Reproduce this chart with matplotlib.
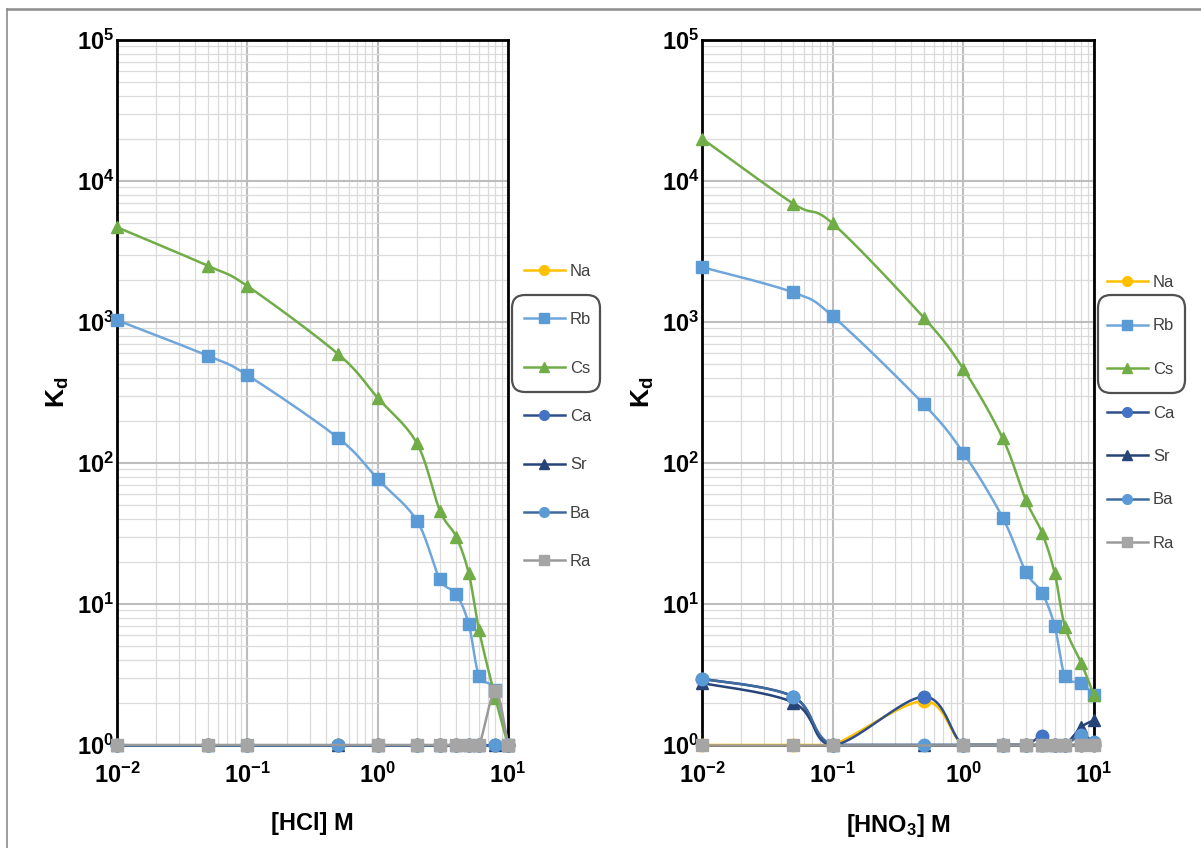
import numpy as np
import matplotlib
matplotlib.use("Agg")
import matplotlib.pyplot as plt
from matplotlib.lines import Line2D
from matplotlib.patches import FancyBboxPatch
from matplotlib.ticker import FixedLocator, FuncFormatter, LogLocator, NullFormatter

plt.rcParams["font.family"] = ["Liberation Sans", "DejaVu Sans"]
plt.rcParams["mathtext.fontset"] = "custom"
plt.rcParams["mathtext.rm"] = "Liberation Sans"
plt.rcParams["mathtext.bf"] = "Liberation Sans:bold"
plt.rcParams["mathtext.it"] = "Liberation Sans:italic"

# concentraciones de acido (M)
conc = [0.01, 0.05, 0.1, 0.5, 1, 2, 3, 4, 5, 6, 8, 10]
conc_ra = [0.01, 0.05, 0.1, 1, 2, 3, 4, 5, 6, 8, 10]

# Kd en HCl
hcl_na = [1, 1, 1, 1, 1, 1, 1, 1, 1, 1, 1, 1]
hcl_rb = [1030, 575, 420, 150, 77, 39, 15, 11.8, 7.2, 3.1, 2.45, 1]
hcl_cs = [4700, 2500, 1800, 590, 290, 138, 46, 30, 16.5, 6.5, 2.15, 1]
hcl_ca = [1, 1, 1, 1, 1, 1, 1, 1, 1, 1, 1, 1]
hcl_sr = [1, 1, 1, 1, 1, 1, 1, 1, 1, 1, 1, 1]
hcl_ba = [1, 1, 1, 1, 1, 1, 1, 1, 1, 1, 1, 1]
hcl_ra = [1, 1, 1, 1, 1, 1, 1, 1, 1, 2.4, 1]

# Kd en HNO3
hno3_na = [1, 1, 1, 2.05, 1, 1, 1, 1, 1, 1, 1, 1]
hno3_rb = [2450, 1620, 1100, 260, 118, 41, 17, 12, 7, 3.1, 2.75, 2.26]
hno3_cs = [20000, 6900, 5000, 1070, 465, 150, 55, 32, 16.6, 6.9, 3.8, 2.26]
hno3_ca = [2.95, 2.2, 1, 2.2, 1, 1, 1, 1.15, 1, 1, 1, 1]
hno3_sr = [2.75, 2.0, 1, 1, 1, 1, 1, 1, 1, 1, 1.34, 1.5]
hno3_ba = [2.95, 2.2, 1, 1, 1, 1, 1, 1, 1, 1, 1.17, 1.05]
hno3_ra = [1, 1, 1, 1, 1, 1, 1, 1, 1, 1, 1]

names = ["Na", "Rb", "Cs", "Ca", "Sr", "Ba", "Ra"]
# (color linea, color marcador, marcador)
styles = {
    "Na": ("#ffc000", "#ffc000", "o"),
    "Rb": ("#6fa6dc", "#5b9bd5", "s"),
    "Cs": ("#70ad47", "#70ad47", "^"),
    "Ca": ("#2f4f8a", "#4472c4", "o"),
    "Sr": ("#264478", "#264478", "^"),
    "Ba": ("#3f6a9e", "#5b9bd5", "o"),
    "Ra": ("#9a9a9a", "#a5a5a5", "s"),
}


def smooth(xs, ys, n=24):
    # curva suavizada tipo Excel (bezier por tramos en espacio log-log)
    pts = np.column_stack([np.log10(xs), np.log10(ys)])
    out = []
    for i in range(len(pts) - 1):
        p0 = pts[max(i - 1, 0)]
        p1 = pts[i]
        p2 = pts[i + 1]
        p3 = pts[min(i + 2, len(pts) - 1)]
        c1 = p1 + (p2 - p0) / 6
        c2 = p2 - (p3 - p1) / 6
        t = np.linspace(0, 1, n)[:, None]
        seg = (1 - t) ** 3 * p1 + 3 * (1 - t) ** 2 * t * c1 + 3 * (1 - t) * t ** 2 * c2 + t ** 3 * p2
        out.append(seg if i == 0 else seg[1:])
    curve = np.vstack(out)
    return 10 ** curve[:, 0], 10 ** np.clip(curve[:, 1], 0, None)


def draw_panel(ax, series, xlabel):
    for k, name in enumerate(names):
        xs, ys = series[name]
        lc, mc, mk = styles[name]
        sx, sy = smooth(xs, ys)
        z = 3 + k * 0.1
        ax.plot(sx, sy, color=lc, lw=1.8, zorder=z, clip_on=False)
        ax.plot(xs, ys, ls="none", marker=mk, ms=9, color=mc, mec=mc, zorder=z + 0.05, clip_on=False)

    ax.set_xscale("log")
    ax.set_yscale("log")
    ax.set_xlim(0.01, 10)
    ax.set_ylim(1, 1e5)

    fmt = FuncFormatter(lambda v, p: r"$\mathbf{10^{%d}}$" % round(np.log10(v)))
    ax.xaxis.set_major_locator(FixedLocator([0.01, 0.1, 1, 10]))
    ax.yaxis.set_major_locator(FixedLocator([1, 10, 100, 1e3, 1e4, 1e5]))
    ax.xaxis.set_major_formatter(fmt)
    ax.yaxis.set_major_formatter(fmt)
    ax.xaxis.set_minor_locator(LogLocator(base=10, subs=np.arange(2, 10)))
    ax.yaxis.set_minor_locator(LogLocator(base=10, subs=np.arange(2, 10)))
    ax.xaxis.set_minor_formatter(NullFormatter())
    ax.yaxis.set_minor_formatter(NullFormatter())
    ax.tick_params(which="both", length=0, labelsize=17)
    ax.tick_params(axis="x", pad=13)
    ax.tick_params(axis="y", pad=2)

    ax.grid(True, which="major", color="#bdbdbd", lw=1.5)
    ax.grid(True, which="minor", color="#dadada", lw=0.9)
    ax.set_axisbelow(True)
    for sp in ax.spines.values():
        sp.set_color("black")
        sp.set_linewidth(2)

    ax.set_xlabel(xlabel, fontsize=17, fontweight="bold", labelpad=17)
    ax.set_ylabel(r"K$_\mathbf{d}$", fontsize=19, fontweight="bold", labelpad=4)


fig = plt.figure(figsize=(12.01, 8.48), dpi=100)
W, H = 1201, 848

ax1 = fig.add_axes([117 / W, 1 - 745 / H, (508 - 117) / W, (745 - 40) / H])
ax2 = fig.add_axes([702 / W, 1 - 745 / H, (1094 - 702) / W, (745 - 40) / H])

hcl = {
    "Na": (conc, hcl_na), "Rb": (conc, hcl_rb), "Cs": (conc, hcl_cs),
    "Ca": (conc, hcl_ca), "Sr": (conc, hcl_sr), "Ba": (conc, hcl_ba),
    "Ra": (conc_ra, hcl_ra),
}
hno3 = {
    "Na": (conc, hno3_na), "Rb": (conc, hno3_rb), "Cs": (conc, hno3_cs),
    "Ca": (conc, hno3_ca), "Sr": (conc, hno3_sr), "Ba": (conc, hno3_ba),
    "Ra": (conc_ra, hno3_ra),
}

draw_panel(ax1, hcl, "[HCl] M")
draw_panel(ax2, hno3, r"[HNO$_\mathbf{3}$] M")

handles = []
for name in names:
    lc, mc, mk = styles[name]
    handles.append(Line2D([], [], color=lc, lw=1.8, marker=mk, ms=7, mfc=mc, mec=mc))

# leyendas a la derecha de cada panel
for x_px, top_px, spacing in [(524, 264, 2.0), (1107, 275, 1.71)]:
    leg = fig.legend(handles, names, loc="upper left",
                     bbox_to_anchor=(x_px / W, 1 - top_px / H),
                     frameon=False, fontsize=12, handlelength=2.45,
                     handletextpad=0.3, labelspacing=spacing,
                     borderpad=0, borderaxespad=0)
    for t in leg.get_texts():
        t.set_color("#404040")

# recuadros redondeados alrededor de Rb y Cs
for x0, y0, x1, y1 in [(512, 295, 600, 392), (1098, 295, 1185, 393)]:
    box = FancyBboxPatch((x0 / 100, (H - y1) / 100), (x1 - x0) / 100, (y1 - y0) / 100,
                         boxstyle="round,pad=0,rounding_size=0.13",
                         transform=fig.dpi_scale_trans, fill=False,
                         edgecolor="#505050", lw=1.6)
    fig.patches.append(box)

# marco exterior de la figura
fig.add_artist(Line2D([7 / W, 1], [1 - 9 / H, 1 - 9 / H], transform=fig.transFigure,
                      color="#8c8c8c", lw=1.8))
fig.add_artist(Line2D([7 / W, 7 / W], [0, 1 - 9 / H], transform=fig.transFigure,
                      color="#8c8c8c", lw=1.2))

fig.savefig("out.png", dpi=100)
